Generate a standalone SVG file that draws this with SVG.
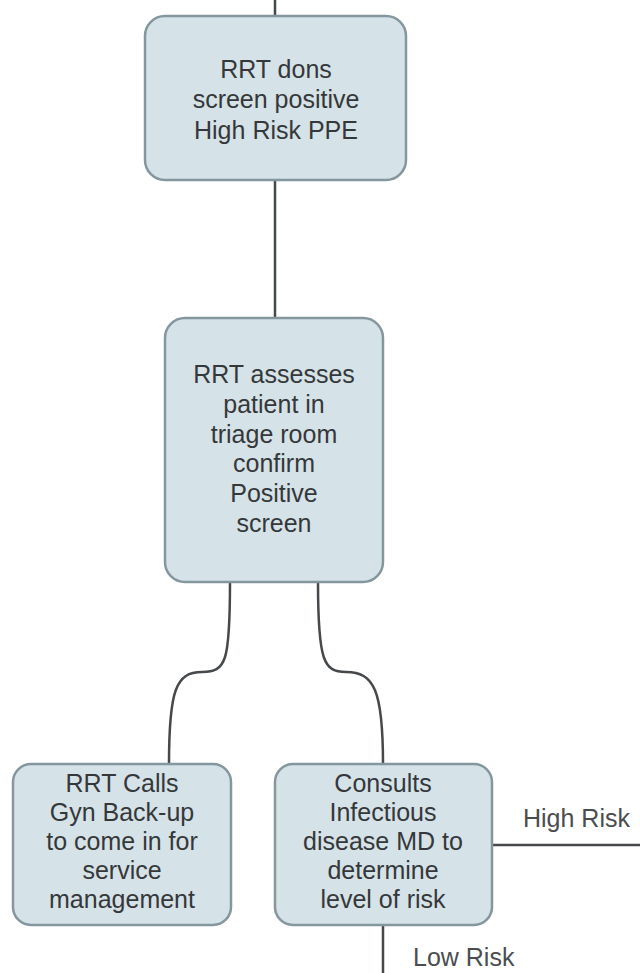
<svg xmlns="http://www.w3.org/2000/svg" width="640" height="973" viewBox="0 0 640 973">
<style>
.box{fill:#d5e2e7;stroke:#85979e;stroke-width:2.5}
.t{font-family:"Liberation Sans",Arial,sans-serif;font-size:25px;fill:#35383a;text-anchor:middle}
.lbl{font-family:"Liberation Sans",Arial,sans-serif;font-size:25px;fill:#4a4d4f}
.c{fill:none;stroke:#45494b;stroke-width:2.5}
</style>
<rect width="640" height="973" fill="#ffffff"/>
<g id="connectors">
<line class="c" x1="275" y1="0" x2="275" y2="16"/>
<line class="c" x1="275" y1="180" x2="275" y2="318"/>
<path class="c" d="M230,582 C230,662 226,672 202,672 C176,672 169,690 169,764"/>
<path class="c" d="M318,582 C318,662 324,672 346,672 C374,672 383,690 383,764"/>
<line class="c" x1="492" y1="845" x2="640" y2="845"/>
<line class="c" x1="383" y1="925" x2="383" y2="973"/>
<text class="lbl" x="523" y="827">High Risk</text>
<text class="lbl" x="413" y="966">Low Risk</text>
</g>
<g id="n1">
<rect class="box" x="145" y="16" width="261" height="164" rx="20"/>
<text class="t" x="276" y="78">RRT dons</text>
<text class="t" x="276" y="108">screen positive</text>
<text class="t" x="276" y="139">High Risk PPE</text>
</g>
<g id="n2">
<rect class="box" x="165" y="318" width="218" height="264" rx="20"/>
<text class="t" x="274" y="383">RRT assesses</text>
<text class="t" x="274" y="413">patient in</text>
<text class="t" x="274" y="443">triage room</text>
<text class="t" x="274" y="472">confirm</text>
<text class="t" x="274" y="502">Positive</text>
<text class="t" x="274" y="532">screen</text>
</g>
<g id="n3">
<rect class="box" x="13" y="764" width="218" height="161" rx="18"/>
<text class="t" x="122" y="792">RRT Calls</text>
<text class="t" x="122" y="821">Gyn Back-up</text>
<text class="t" x="122" y="850">to come in for</text>
<text class="t" x="122" y="879">service</text>
<text class="t" x="122" y="908">management</text>
</g>
<g id="n4">
<rect class="box" x="275" y="764" width="217" height="161" rx="18"/>
<text class="t" x="383" y="792">Consults</text>
<text class="t" x="383" y="821">Infectious</text>
<text class="t" x="383" y="850">disease MD to</text>
<text class="t" x="383" y="879">determine</text>
<text class="t" x="383" y="908">level of risk</text>
</g>
</svg>
